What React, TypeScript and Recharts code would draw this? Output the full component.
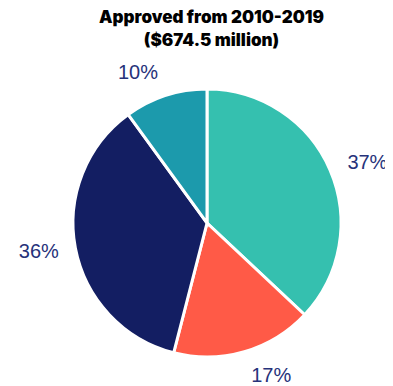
import React from "react";
import { PieChart, Pie, Cell } from "recharts";

const categories = ["A", "B", "C", "D"];
const values = [37, 17, 36, 10];
const labels = ["37%", "17%", "36%", "10%"];
const colors = ["#35C0AF", "#FF5A47", "#131E62", "#1C9AAC"];

const data = categories.map((c, i) => ({ name: c, value: values[i], label: labels[i] }));

const RAD = Math.PI / 180;

const renderLabel = (props: any) => {
  const { cx, cy, midAngle, outerRadius, index } = props;
  const r = outerRadius + 15 + 10 * Math.abs(Math.sin(midAngle * RAD));
  const x = cx + r * Math.cos(-midAngle * RAD);
  const y = cy + r * Math.sin(-midAngle * RAD);
  return (
    <text
      x={x}
      y={y}
      fill="#26327A"
      fontSize={20}
      fontFamily="'Liberation Sans', Arial, sans-serif"
      textAnchor={x > cx ? "start" : "end"}
      dominantBaseline="central"
    >
      {labels[index]}
    </text>
  );
};

export default function App() {
  return (
    <div style={{ width: 393, height: 386, position: "relative", marginLeft: -8, marginTop: -8, overflow: "hidden" }}>
      <div
        style={{
          position: "absolute",
          top: 6,
          left: 0,
          width: 393,
          textAlign: "center",
          fontFamily: "Inter, 'Liberation Sans', sans-serif",
          fontWeight: 900,
          fontSize: 17,
          lineHeight: "23px",
          color: "#000",
          zIndex: 2,
        }}
      >
        <div style={{ paddingLeft: 30 }}>Approved from 2010-2019</div>
        <div style={{ paddingLeft: 30 }}>($674.5 million)</div>
      </div>
      <div style={{ position: "absolute", top: 0, left: 0 }}>
        <PieChart width={393} height={386} margin={{ top: 0, right: 0, bottom: 0, left: 0 }}>
          <Pie
            data={data}
            dataKey="value"
            cx={207}
            cy={223}
            outerRadius={134}
            startAngle={90}
            endAngle={-270}
            stroke="#fff"
            strokeWidth={3}
            label={renderLabel}
            labelLine={false}
            isAnimationActive={false}
          >
            {data.map((d, i) => (
              <Cell key={d.name} fill={colors[i]} />
            ))}
          </Pie>
        </PieChart>
      </div>
    </div>
  );
}
